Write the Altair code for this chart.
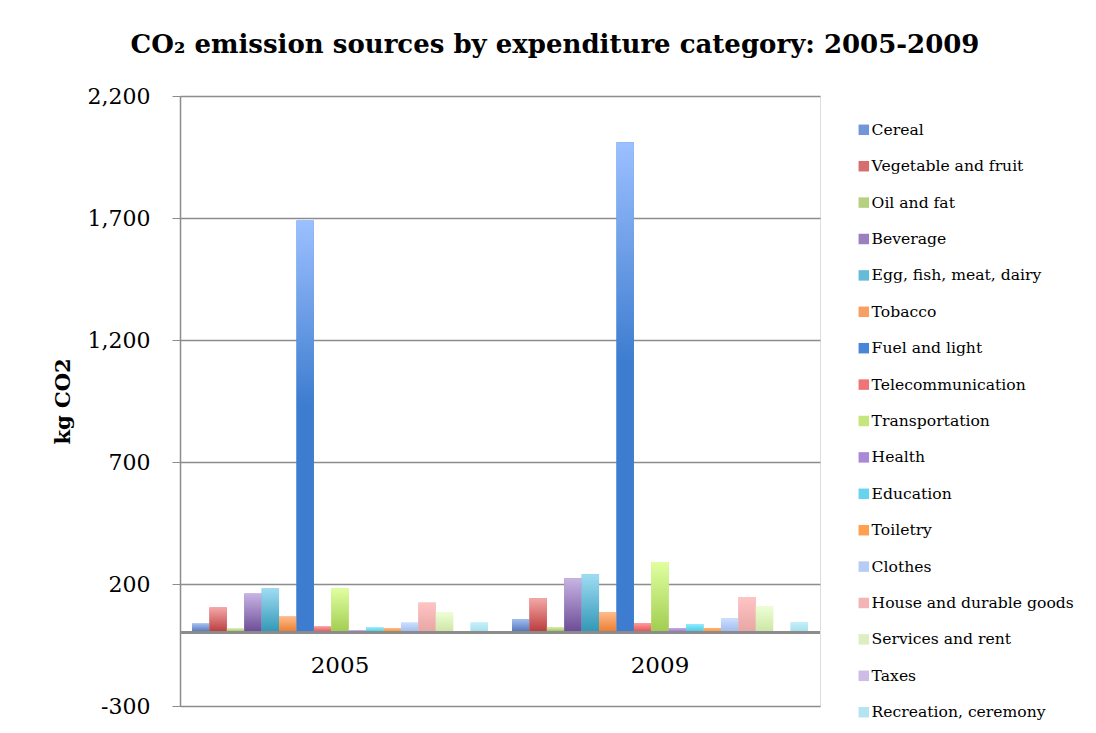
import altair as alt
import pandas as pd

categories = ["Cereal", "Vegetable and fruit", "Oil and fat", "Beverage",
              "Egg, fish, meat, dairy", "Tobacco", "Fuel and light",
              "Telecommunication", "Transportation", "Health", "Education",
              "Toiletry", "Clothes", "House and durable goods",
              "Services and rent", "Taxes", "Recreation, ceremony"]
values_2005 = [38, 104, 18, 161, 182, 67, 1690, 26, 182, 10, 22, 18, 42, 124, 83, 0, 42]
values_2009 = [56, 142, 23, 224, 240, 85, 2010, 40, 290, 19, 36, 19, 60, 146, 109, 0, 44]
years = ["2005", "2009"]
# legend (mid) colours, and gradient top/bottom colours per category
colors = ["#7396d6", "#d66e6e", "#b5d17f", "#9b80c0", "#66bcd8", "#f8a064",
          "#4a86d6", "#ef7476", "#c4e67c", "#aa88d8", "#66d4ee", "#ffa050",
          "#b6ccf4", "#f2b4b4", "#deeec0", "#ccbce6", "#b4e4f2"]
tops = ["#a3bef0", "#f4a8a8", "#d8f0a8", "#c8b4e4", "#a0dcf4", "#ffbc8c",
        "#9cc0ff", "#ff9ca0", "#e0ffa0", "#c8a8f0", "#90eeff", "#ffb070",
        "#cce0ff", "#ffc4c4", "#ecffd4", "#dcccf0", "#c4f0fc"]
bottoms = ["#4a6fb2", "#b83838", "#8cb048", "#6a4a94", "#2f96b4", "#ea7a2a",
           "#3d7ccf", "#e04848", "#a0cc50", "#8c68c4", "#40c0e0", "#ff9030",
           "#9cb8ec", "#e8a4a4", "#cce4a4", "#bca8dc", "#a4dcec"]

rows = []
for yr, vals in zip(years, [values_2005, values_2009]):
    for c, v in zip(categories, vals):
        rows.append({"Year": yr, "Category": c, "Value": v})
df = pd.DataFrame(rows)

FONT = "DejaVu Serif"
GRAY = "#8c8c8c"

x_enc = alt.X("Year:N", sort=years,
              scale=alt.Scale(paddingInner=0.075, paddingOuter=0.0375),
              axis=alt.Axis(title=None, domain=False, ticks=False, labelAngle=0,
                            labelFont=FONT, labelFontSize=23, labelColor="#000",
                            labelPadding=-52))
xo_enc = alt.XOffset("Category:N", sort=categories,
                     scale=alt.Scale(domain=categories, paddingInner=0, paddingOuter=0))
y_enc = alt.Y("Value:Q",
              scale=alt.Scale(domain=[-300, 2200], nice=False, zero=False),
              axis=alt.Axis(title="kg CO2", values=[-300, 200, 700, 1200, 1700, 2200],
                            format=",d",
                            labelExpr="replace(datum.label, '\u2212', '-')",
                            labelFont=FONT, labelFontSize=22,
                            labelColor="#000", labelPadding=22, tickSize=8,
                            tickColor=GRAY, domainColor=GRAY,
                            domainWidth=1.5, gridColor=GRAY, gridWidth=1.5,
                            titleFont=FONT, titleFontSize=21, titleFontWeight="bold",
                            titleColor="#000", titlePadding=14))

base = alt.Chart(df).mark_bar().encode(
    x=x_enc, xOffset=xo_enc, y=y_enc, y2=alt.Y2(datum=0),
    color=alt.Color("Category:N", sort=categories,
                    scale=alt.Scale(domain=categories, range=colors),
                    legend=alt.Legend(title=None, orient="none", legendX=676,
                                      legendY=26, symbolType="square",
                                      symbolSize=110, symbolStrokeWidth=0,
                                      labelFont=FONT, labelFontSize=15.6,
                                      labelColor="#000", rowPadding=19.4,
                                      labelOffset=0, padding=0, labelLimit=400)),
)

layers = [base]
for i, cat in enumerate(categories):
    mid_stop = 0.45 if cat == "Fuel and light" else 1.0
    grad = alt.LinearGradient(
        gradient="linear", x1=0, x2=0, y1=0, y2=1,
        stops=[alt.GradientStop(offset=0, color=tops[i]),
               alt.GradientStop(offset=mid_stop, color=bottoms[i]),
               alt.GradientStop(offset=1, color=bottoms[i])])
    layers.append(
        alt.Chart(df).mark_bar(fill=grad).encode(
            x=x_enc, xOffset=xo_enc, y=y_enc, y2=alt.Y2(datum=0)
        ).transform_filter(alt.datum.Category == cat)
    )

zero = alt.Chart(df).mark_rule(color=GRAY, strokeWidth=2).encode(
    y=alt.Y(datum=0)
)
layers.append(zero)

chart = alt.layer(*layers).properties(
    width=640, height=610,
    title=alt.Title("CO₂ emission sources by expenditure category: 2005-2009",
                    font=FONT, fontSize=26, fontWeight="bold", color="#000",
                    anchor="middle", offset=27, dx=55),
    autosize=alt.AutoSizeParams(type="none"),
    padding={"left": 172, "top": 88, "right": 268, "bottom": 16},
).configure_view(stroke=None).configure(background="white")

chart.save("out.html", embed_options={"renderer": "svg", "actions": False})
